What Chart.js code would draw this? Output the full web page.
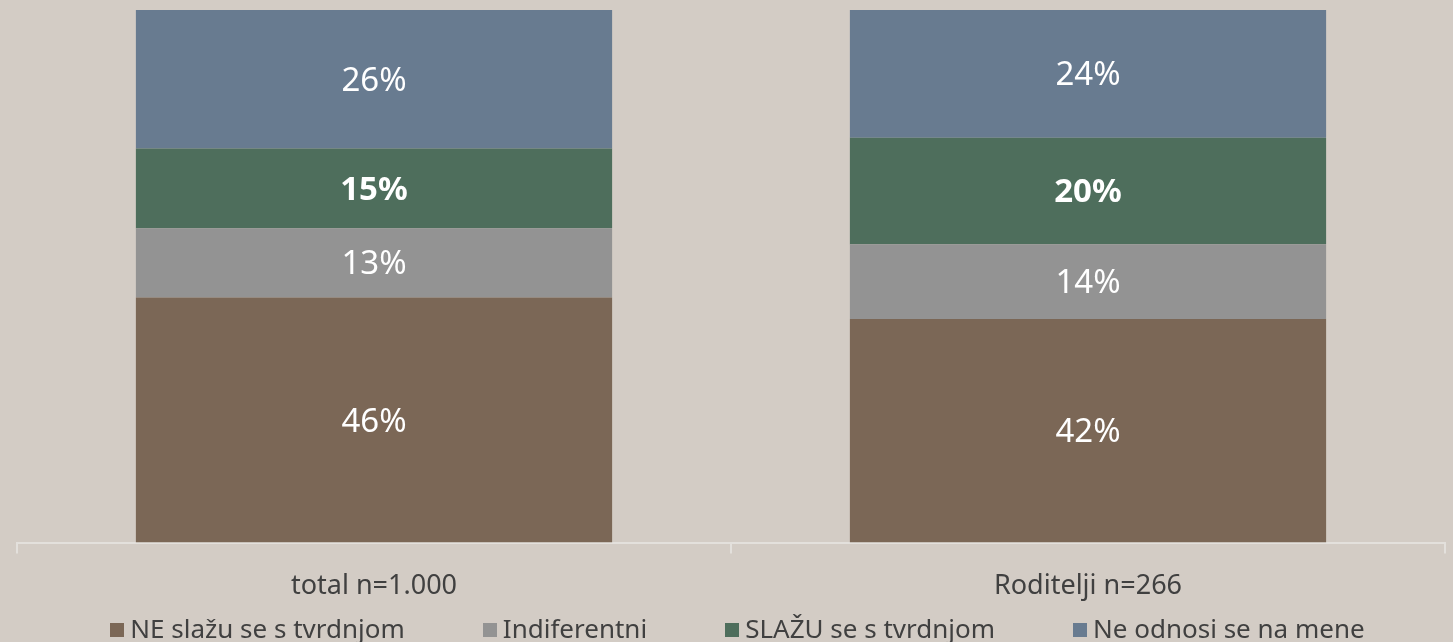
<!DOCTYPE html>
<html>
<head>
<meta charset="utf-8">
<script src="https://cdn.jsdelivr.net/npm/chart.js@4"></script>
<style>
  html, body { margin: 0; padding: 0; background: #d3ccc5; }
  #wrap { position: relative; width: 1453px; height: 642px; overflow: hidden; }
  #legend {
    position: absolute; left: 22px; right: 0; top: 612px; height: 32px;
    display: flex; justify-content: center; align-items: center; gap: 78px;
    font-family: "Noto Sans", sans-serif; font-size: 26px; color: #404040;
  }
  #legend .item { display: flex; align-items: center; white-space: nowrap; }
  #legend .box { width: 14px; height: 14px; margin-right: 6px; margin-top: 3px; }
</style>
</head>
<body>
<div id="wrap"><canvas id="chart"></canvas><div id="legend"></div></div>
<script>
const categories = ["total n=1.000", "Roditelji n=266"];
const seriesNames = ["NE slažu se s tvrdnjom", "Indiferentni", "SLAŽU se s tvrdnjom", "Ne odnosi se na mene"];
const neSlazu = [46, 42];
const indiferentni = [13, 14];
const slazu = [15, 20];
const neOdnosi = [26, 24];
const colors = ["#7b6756", "#939393", "#4e6e5c", "#687b90"];
const boldSeries = [false, false, true, false];

// draws the % values in the middle of each segment
const segLabels = {
  id: "segLabels",
  afterDatasetsDraw(chart) {
    const ctx = chart.ctx;
    ctx.save();
    ctx.fillStyle = "#ffffff";
    ctx.textAlign = "center";
    ctx.textBaseline = "middle";
    chart.data.datasets.forEach((ds, i) => {
      const meta = chart.getDatasetMeta(i);
      ctx.font = (boldSeries[i] ? "bold " : "") + "33px 'Noto Sans'";
      meta.data.forEach((bar, j) => {
        const y = (bar.y + bar.base) / 2 + 2;
        ctx.fillText(ds.data[j] + "%", bar.x, y);
      });
    });
    ctx.restore();
  }
};

const seriesData = [neSlazu, indiferentni, slazu, neOdnosi];

const chart = new Chart(document.getElementById("chart"), {
  type: "bar",
  data: {
    labels: categories,
    datasets: seriesNames.map((name, i) => ({
      label: name,
      data: seriesData[i],
      backgroundColor: colors[i],
      borderWidth: 0,
      barPercentage: 1,
      categoryPercentage: 0.667
    }))
  },
  options: {
    responsive: true,
    maintainAspectRatio: false,
    animation: false,
    layout: { padding: { top: 10, left: 17, right: 8, bottom: 22 } },
    scales: {
      x: {
        stacked: true,
        grid: { display: true, drawOnChartArea: false, color: "#e3e0dc", tickLength: 11, lineWidth: 2 },
        border: { color: "#e3e0dc", width: 2 },
        ticks: { color: "#404040", font: { family: "Noto Sans", size: 27 }, padding: 17 }
      },
      y: {
        stacked: true,
        display: false,
        min: 0,
        max: 100
      }
    },
    plugins: {
      legend: { display: false },
      tooltip: { enabled: false }
    }
  },
  plugins: [segLabels]
});

// legend below the chart, built from the dataset names and colours
const legendEl = document.getElementById("legend");
chart.data.datasets.forEach(ds => {
  const item = document.createElement("div");
  item.className = "item";
  const box = document.createElement("span");
  box.className = "box";
  box.style.background = ds.backgroundColor;
  item.appendChild(box);
  item.appendChild(document.createTextNode(ds.label));
  legendEl.appendChild(item);
});
</script>
</body>
</html>
